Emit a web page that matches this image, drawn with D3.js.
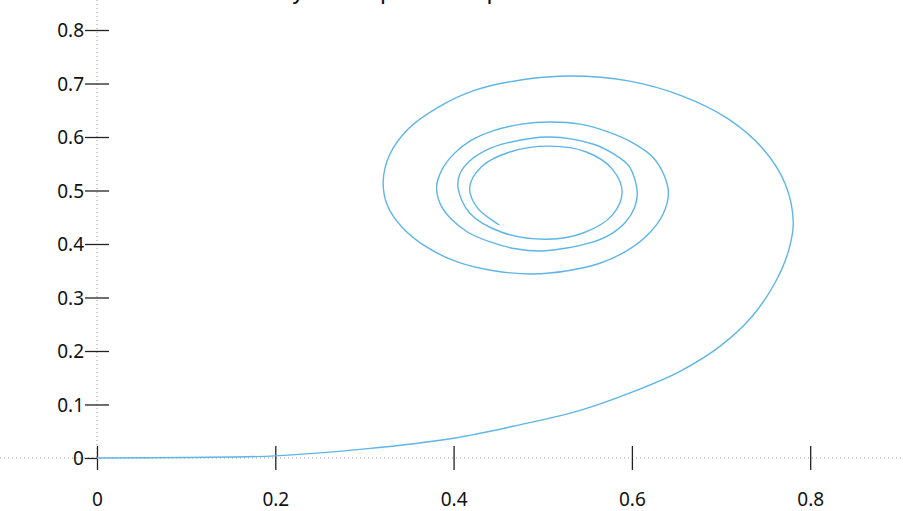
<!DOCTYPE html>
<html>
<head>
<meta charset="utf-8">
<script src="https://cdn.jsdelivr.net/npm/d3@7"></script>
<style>
  html, body { margin: 0; padding: 0; background: #fff; }
  svg { display: block; }
  text { font-family: "Noto Sans", "DejaVu Sans", sans-serif; }
</style>
</head>
<body>
<svg id="chart" width="903" height="511"></svg>
<script>
// ---- data ----
const titleText = "Every orbit is pulled to a point";
const xTicks = [0, 0.2, 0.4, 0.6, 0.8];
const yTicks = [0, 0.1, 0.2, 0.3, 0.4, 0.5, 0.6, 0.7, 0.8];
const xTickLabels = ["0", "0.2", "0.4", "0.6", "0.8"];
const yTickLabels = ["0", "0.1", "0.2", "0.3", "0.4", "0.5", "0.6", "0.7", "0.8"];

const trajX = [0, 0.1, 0.2, 0.301, 0.4, 0.474, 0.542, 0.6, 0.654, 0.699, 0.735, 0.761, 0.776, 0.781,
  0.772, 0.747, 0.708, 0.656, 0.596, 0.531, 0.477, 0.425, 0.383, 0.349, 0.328, 0.321,
  0.326, 0.343, 0.37, 0.405, 0.445, 0.489, 0.528, 0.564, 0.596, 0.62, 0.635, 0.641,
  0.636, 0.623, 0.601, 0.574, 0.542, 0.508, 0.476, 0.445, 0.42, 0.4, 0.387, 0.381,
  0.385, 0.397, 0.416, 0.441, 0.47, 0.5, 0.553, 0.576, 0.593, 0.603, 0.606,
  0.597, 0.58, 0.556, 0.508, 0.46, 0.436, 0.418, 0.407, 0.405,
  0.418, 0.454, 0.505, 0.546, 0.578, 0.589,
  0.578, 0.549, 0.508, 0.463, 0.431, 0.418,
  0.427, 0.451];
const trajY = [0, 0.001, 0.004, 0.017, 0.037, 0.062, 0.089, 0.123, 0.162, 0.209, 0.265, 0.329, 0.389, 0.441,
  0.512, 0.578, 0.634, 0.677, 0.705, 0.714, 0.707, 0.688, 0.656, 0.615, 0.566, 0.516,
  0.471, 0.43, 0.394, 0.366, 0.35, 0.344, 0.35, 0.364, 0.389, 0.421, 0.456, 0.495,
  0.529, 0.563, 0.589, 0.609, 0.624, 0.628, 0.624, 0.612, 0.594, 0.568, 0.539, 0.507,
  0.475, 0.447, 0.422, 0.404, 0.391, 0.387, 0.402, 0.418, 0.441, 0.468, 0.497,
  0.545, 0.568, 0.587, 0.6, 0.589, 0.575, 0.555, 0.531, 0.505,
  0.458, 0.422, 0.409, 0.421, 0.454, 0.497,
  0.54, 0.572, 0.583, 0.572, 0.544, 0.505,
  0.467, 0.436];

// ---- drawing ----
const W = 903, H = 511;
const svg = d3.select("#chart");

const x = d3.scaleLinear().domain([-0.1088, 0.9041]).range([0, W]);
const y = d3.scaleLinear().domain([0.8561, -0.0991]).range([0, H]);

const x0 = x(0), y0 = y(0);

// dotted zero lines
svg.append("line")
  .attr("x1", 0).attr("x2", W).attr("y1", y0).attr("y2", y0)
  .attr("stroke", "#999").attr("stroke-width", 1).attr("stroke-dasharray", "1,3");
svg.append("line")
  .attr("x1", x0).attr("x2", x0).attr("y1", 0).attr("y2", y0)
  .attr("stroke", "#999").attr("stroke-width", 1).attr("stroke-dasharray", "1,3");

// x axis ticks crossing the zero line
const xAxis = d3.axisBottom(x).tickValues(xTicks).tickSize(0)
  .tickFormat((d, i) => xTickLabels[i]);
const gx = svg.append("g").attr("transform", `translate(0,${y0})`).call(xAxis);
gx.select(".domain").remove();
gx.selectAll(".tick line").attr("y1", -12).attr("y2", 12)
  .attr("stroke", "#222").attr("stroke-width", 1.3);
gx.selectAll(".tick text").attr("y", 48).attr("dy", "0")
  .attr("font-size", 19).attr("fill", "#111")
  .style("font-family", '"Noto Sans", sans-serif');

// y axis ticks crossing the zero line
const yAxis = d3.axisLeft(y).tickValues(yTicks).tickSize(0)
  .tickFormat((d, i) => yTickLabels[i]);
const gy = svg.append("g").attr("transform", `translate(${x0},0)`).call(yAxis);
gy.select(".domain").remove();
gy.selectAll(".tick line").attr("x1", -12).attr("x2", 12)
  .attr("stroke", "#222").attr("stroke-width", 1.3);
gy.selectAll(".tick").filter(d => d === 0).select("line").attr("x2", 0);
gy.selectAll(".tick text").attr("x", -13).attr("dy", "0.35em")
  .attr("font-size", 19).attr("fill", "#111")
  .style("font-family", '"Noto Sans", sans-serif');

// the trajectory
const pts = trajX.map((v, i) => [v, trajY[i]]);
const line = d3.line().x(d => x(d[0])).y(d => y(d[1])).curve(d3.curveCatmullRom.alpha(0.5));
svg.append("path").datum(pts)
  .attr("d", line)
  .attr("fill", "none")
  .attr("stroke", "#5db5e8")
  .attr("stroke-width", 1.4);

// title, mostly above the visible area (as in the reference)
const title = svg.append("text")
  .attr("x", 0).attr("y", -1)
  .attr("font-size", 20).attr("font-weight", "500").attr("fill", "#111")
  .text(titleText);
const yi = titleText.indexOf("y");
const ext = title.node().getExtentOfChar(yi);
const targetCx = 298;
title.attr("x", targetCx - (ext.x + ext.width / 2));
</script>
</body>
</html>
